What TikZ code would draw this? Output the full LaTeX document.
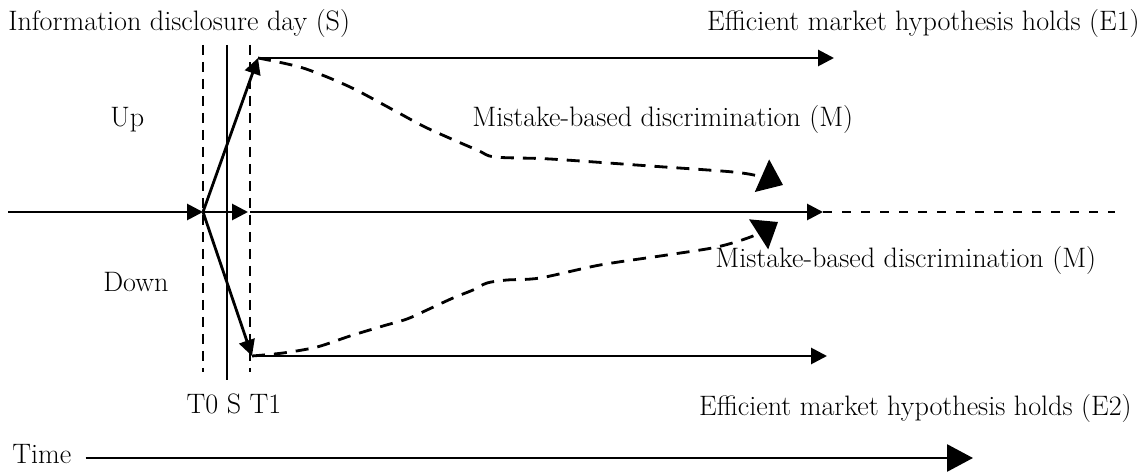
\documentclass[tikz,border=0pt]{standalone}
\usepackage{tikz}
\usetikzlibrary{arrows.meta, positioning, calc}

\begin{document}
\begin{tikzpicture}[
        lbl/.style={font=\fontsize{16}{19}\selectfont, inner sep=0pt},
        arr/.style={-{Triangle[length=0.32cm, width=0.32cm]}, line width=1.6pt},
        mistake/.style={-{Triangle[length=0.46cm, width=0.7cm]}, line width=1.6pt,
                        dash pattern=on 0.26cm off 0.18cm},
        vline/.style={line width=1.2pt, dash pattern=on 0.2cm off 0.14cm},
        tail/.style={line width=1.6pt, dash pattern=on 0.18cm off 0.2cm}
      ]
        \useasboundingbox (0,0) rectangle (22.96,9.44);

        \coordinate (start) at (0.16,5.2);
        \coordinate (t0) at (4.06,5.2);
        \coordinate (t1) at (4.96,5.2);
        \coordinate (t1line) at (5.0,5.2);
        \coordinate (mainend) at (16.46,5.2);
        \coordinate (far) at (22.3,5.2);
        \coordinate (up) at (5.16,8.28);
        \coordinate (upend) at (16.68,8.28);
        \coordinate (down) at (5.04,2.32);
        \coordinate (downend) at (16.54,2.32);

        \draw[vline] (4.06,8.54) -- (4.06,2.0);
        \draw[line width=1.2pt] (4.54,8.54) -- (4.54,1.84);
        \draw[vline] (5.0,8.54) -- (5.0,2.0);

        \draw[arr] (start) -- (t0);
        \draw[arr] (t0) -- (t1);
        \draw[arr] (t1line) -- (mainend);
        \draw[tail] (mainend) -- (far);

        \draw[arr] (t0) -- (up);
        \draw[arr] (t0) -- (down);
        \draw[arr] (up) -- (upend);
        \draw[arr] (down) -- (downend);

        \draw[mistake] plot[smooth, tension=0.5] coordinates {(up) (6.06,8.08) (7.0,7.7)
          (7.94,7.2) (8.54,6.88) (9.54,6.44) (9.9,6.3) (11.0,6.26) (13.0,6.12)
          (14.66,6.0) (15.24,5.9) (15.66,5.74)};
        \draw[mistake] plot[smooth, tension=0.5] coordinates {(down) (5.66,2.38) (6.34,2.5)
          (7.0,2.72) (7.66,2.92) (8.14,3.06) (8.54,3.24) (9.06,3.48) (9.46,3.64)
          (9.74,3.78) (10.14,3.84) (10.8,3.88) (12.0,4.14) (13.34,4.34) (14.34,4.5)
          (15.06,4.72) (15.56,5.0)};

        \node[lbl, anchor=base west] (disclosure) at (0.16,8.82) {Information disclosure day (S)};
        \node[lbl, anchor=base east] (emhup) at (22.8,8.82) {Efficient market hypothesis holds (E1)};
        \node[lbl, anchor=base west] (uplbl) at (2.2,6.9) {Up};
        \node[lbl, anchor=base west] (mistakeup) at (9.44,6.9) {Mistake-based discrimination (M)};
        \node[lbl, anchor=base west] (mistakedown) at (14.3,4.08) {Mistake-based discrimination (M)};
        \node[lbl, anchor=base west] (downlbl) at (2.06,3.6) {Down};
        \node[lbl, anchor=base] (ticks) at (4.68,1.18) {T0 S T1};
        \node[lbl, anchor=base east] (emhdown) at (22.64,1.14) {Efficient market hypothesis holds (E2)};
        \node[lbl, anchor=base west] (time) at (0.24,0.18) {Time};

        \coordinate (timeend) at (19.46,0.28);
        \draw[-{Triangle[length=0.52cm, width=0.54cm]}, line width=1.6pt]
          ($(time.east |- timeend)+(0.28,0)$) -- (timeend);
      \end{tikzpicture}
\end{document}
